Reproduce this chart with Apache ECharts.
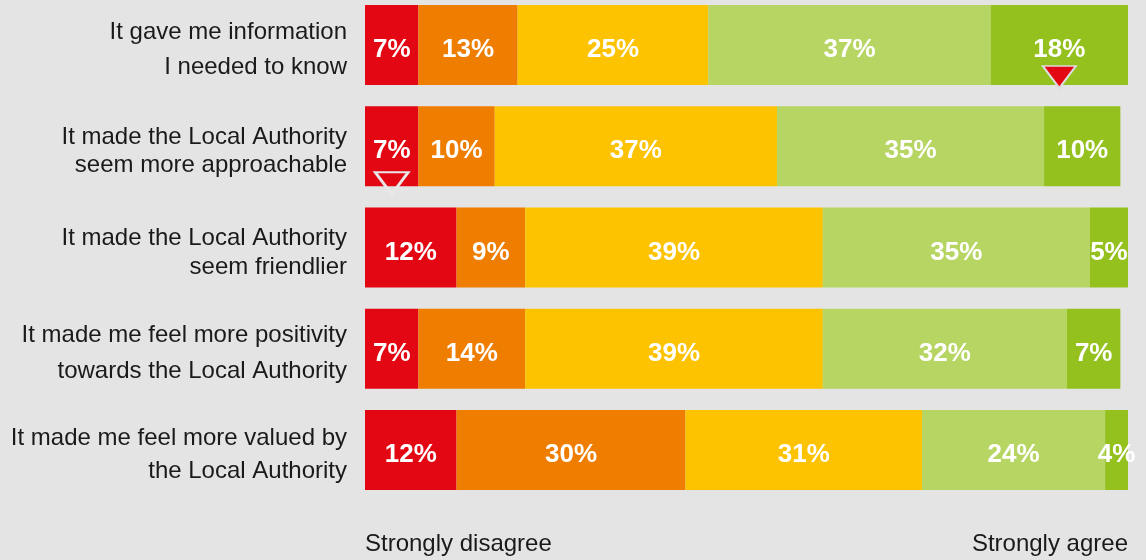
<!DOCTYPE html>
<html>
<head>
<meta charset="utf-8">
<script src="https://cdn.jsdelivr.net/npm/echarts@6/dist/echarts.min.js"></script>
<style>
  html, body { margin: 0; padding: 0; background: #e3e4e3; }
  #chart { width: 1146px; height: 560px; }
</style>
</head>
<body>
<div id="chart"></div>
<script>
// Survey statements (top to bottom)
const statements = [
  'It gave me information\nI needed to know',
  'It made the Local Authority\nseem more approachable',
  'It made the Local Authority\nseem friendlier',
  'It made me feel more positivity\ntowards the Local Authority',
  'It made me feel more valued by\nthe Local Authority'
];

// Response shares (%) per statement
const levelNames = ['Strongly disagree', 'Disagree', 'Neither', 'Agree', 'Strongly agree'];
const stronglyDisagree = [7, 7, 12, 7, 12];
const disagree         = [13, 10, 9, 14, 30];
const neither          = [25, 37, 39, 39, 31];
const agree            = [37, 35, 35, 32, 24];
const stronglyAgree    = [18, 10, 5, 7, 4];

// Scale end labels
const scaleLabels = { 0: 'Strongly disagree', 100: 'Strongly agree' };

// Arrow markers: statement index and position on the 0-100 scale
const markerRows   = [0, 1];
const markerValues = [91, 3.5];
const markerFilled = [true, false];

const colors = ['#e30613', '#ef7d00', '#fdc300', '#b7d563', '#95c11f'];
const levels = [stronglyDisagree, disagree, neither, agree, stronglyAgree];
const fontFamily = '"Liberation Sans", Arial, Helvetica, sans-serif';

// Per-row line spacing for the statement labels
const rowLineHeights = [35, 28, 29, 36, 33];
const rich = {};
rowLineHeights.forEach((lh, i) => {
  rich['r' + i] = {
    fontSize: 24,
    lineHeight: lh,
    color: '#1a1a1a',
    fontFamily: fontFamily,
    align: 'right'
  };
});

const barSeries = levels.map((vals, i) => ({
  name: levelNames[i],
  type: 'bar',
  stack: 'total',
  barWidth: 80,
  data: vals,
  itemStyle: { color: colors[i] },
  label: {
    show: true,
    position: 'inside',
    offset: [0, 5],
    formatter: '{c}%',
    color: '#ffffff',
    fontSize: 26,
    fontWeight: 'bold',
    fontFamily: fontFamily
  }
}));

const markerOffsets = [[0, 32], [0, 37]];
const markerSeries = {
  type: 'scatter',
  symbol: 'path://M0,0L32,0L16,21Z',
  symbolSize: [33, 22],
  z: 10,
  silent: true,
  data: markerRows.map((row, i) => ({
    value: [markerValues[i], row],
    symbolOffset: markerOffsets[i],
    itemStyle: markerFilled[i]
      ? { color: '#e30613', borderColor: '#dcdcdc', borderWidth: 2, opacity: 1 }
      : { color: 'rgba(0,0,0,0)', borderColor: '#e8e8e8', borderWidth: 2.6, opacity: 1 }
  }))
};

const chart = echarts.init(document.getElementById('chart'), null, { renderer: 'canvas' });
chart.setOption({
  animation: false,
  backgroundColor: '#e3e4e3',
  grid: {
    left: 365, right: 18, top: -5.6, height: 506.25,
    containLabel: false,
    outerBoundsMode: 'none'
  },
  xAxis: {
    type: 'value',
    min: 0,
    max: 100,
    interval: 100,
    splitLine: { show: false },
    axisLine: { show: false },
    axisTick: { show: false },
    axisLabel: {
      margin: 32,
      fontSize: 24,
      color: '#1a1a1a',
      fontFamily: fontFamily,
      alignMinLabel: 'left',
      alignMaxLabel: 'right',
      formatter: v => scaleLabels[v] || ''
    }
  },
  yAxis: {
    type: 'category',
    inverse: true,
    data: statements,
    axisLine: { show: false },
    axisTick: { show: false },
    axisLabel: {
      margin: 18,
      padding: [10, 0, 0, 0],
      formatter: (v, i) => '{r' + i + '|' + v + '}',
      rich: rich
    }
  },
  series: barSeries.concat([markerSeries])
});
</script>
</body>
</html>
